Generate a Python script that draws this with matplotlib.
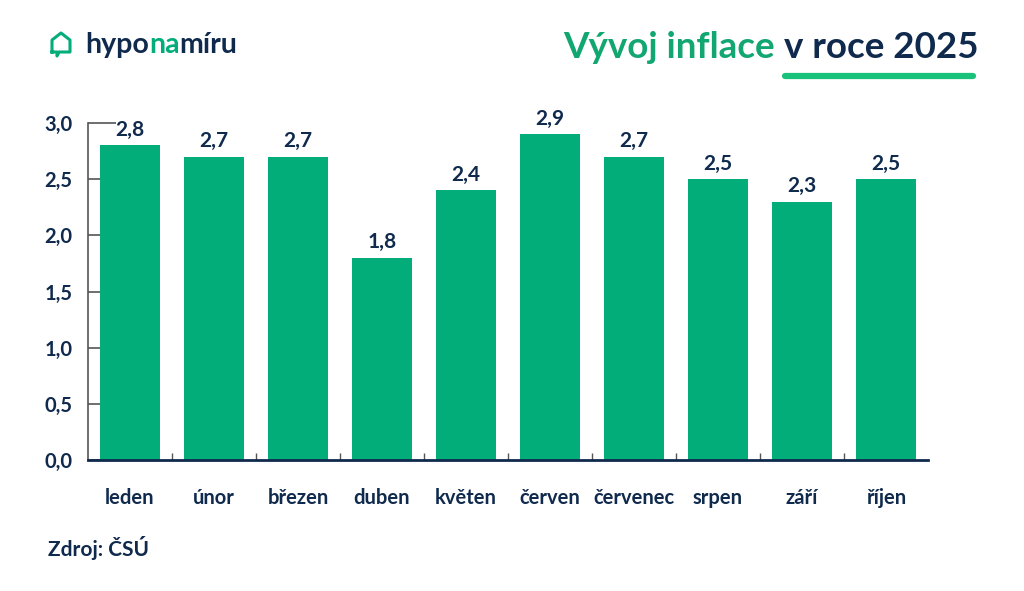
#!/usr/bin/env python3
"""Inflation in 2025 by month (bar chart)."""

import matplotlib
matplotlib.use("Agg")
import matplotlib.pyplot as plt
from matplotlib.lines import Line2D
from matplotlib.ticker import FixedLocator

months = ["leden", "únor", "březen", "duben", "květen",
          "červen", "červenec", "srpen", "září", "říjen"]
inflation = [2.8, 2.7, 2.7, 1.8, 2.4, 2.9, 2.7, 2.5, 2.3, 2.5]
y_ticks = [0.0, 0.5, 1.0, 1.5, 2.0, 2.5, 3.0]

GREEN = "#03ad7a"
TITLE_GREEN = "#12a671"
NAVY = "#0f2a4c"
FONT = "Lato"


def fmt(v: float) -> str:
    return f"{v:.1f}".replace(".", ",")


fig = plt.figure(figsize=(10.24, 5.91), dpi=100)
fig.patch.set_facecolor("white")
ax = fig.add_axes([88 / 1024, 131 / 591, 840 / 1024, 337 / 591])

x = list(range(len(months)))
ax.bar(x, inflation, width=0.72, color=GREEN, zorder=2)
for xi, v in zip(x, inflation):
    ax.annotate(fmt(v), (xi, v), xytext=(0, 4), textcoords="offset points",
                ha="center", va="bottom", fontsize=15, fontweight="bold",
                color=NAVY, family=FONT)

ax.set_xlim(-0.5, len(months) - 0.5)
ax.set_ylim(0, 3.0)
ax.set_yticks(y_ticks)
ax.set_yticklabels([fmt(t) for t in y_ticks], fontsize=14.5, fontweight="bold",
                   color=NAVY, family=FONT)
ax.set_xticks(x)
ax.set_xticklabels(months, fontsize=14.5, fontweight="bold", color=NAVY, family=FONT)
ax.xaxis.set_minor_locator(FixedLocator([i + 0.5 for i in x[:-1]]))

ax.tick_params(axis="x", which="major", length=0, pad=20)
ax.tick_params(axis="x", which="minor", direction="in", length=5,
               color="#555555", width=1)
ax.tick_params(axis="y", direction="in", length=10, color="#555555",
               width=1.2, pad=11)
ax.yaxis.get_major_ticks()[-1].tick1line.set_markersize(20)

for side in ("top", "right"):
    ax.spines[side].set_visible(False)
ax.spines["left"].set_color("#555555")
ax.spines["left"].set_linewidth(1.2)
ax.spines["bottom"].set_color(NAVY)
ax.spines["bottom"].set_linewidth(2)
ax.spines["bottom"].set_zorder(3)

# logo
house_x = [52, 52, 61, 70, 70, 59, 57, 57, 52]
house_y = [52, 40, 33, 40, 52, 52, 56, 52, 52]
fig.add_artist(Line2D([v / 1024 for v in house_x],
                      [1 - v / 591 for v in house_y],
                      transform=fig.transFigure, color=GREEN, lw=2.2,
                      solid_joinstyle="round"))
renderer = fig.canvas.get_renderer()
lx = 85 / 1024
for part, col in [("hypo", NAVY), ("na", GREEN), ("míru", NAVY)]:
    t = fig.text(lx, 1 - 45 / 591, part, color=col, fontsize=20.5,
                 fontweight="bold", family=FONT, va="center", ha="left")
    bb = t.get_window_extent(renderer)
    lx = bb.x1 / fig.bbox.width

# title
t2 = fig.text(978 / 1024, 1 - 48 / 591, "v roce 2025", color=NAVY, fontsize=26.5,
              fontweight="bold", family=FONT, ha="right", va="center")
bb2 = t2.get_window_extent(renderer)
fig.text(bb2.x0 / fig.bbox.width - 9 / 1024, 1 - 48 / 591, "Vývoj inflace",
         color=TITLE_GREEN, fontsize=26.5, fontweight="bold", family=FONT,
         ha="right", va="center")
fig.add_artist(Line2D([785 / 1024, 973 / 1024], [1 - 76 / 591, 1 - 76 / 591],
                      transform=fig.transFigure, color="#18c27b", lw=4.5,
                      solid_capstyle="round"))

fig.text(48 / 1024, 1 - 548 / 591, "Zdroj: ČSÚ", color=NAVY, fontsize=15,
         fontweight="bold", family=FONT, va="center", ha="left")

fig.savefig("out.png", dpi=100)
